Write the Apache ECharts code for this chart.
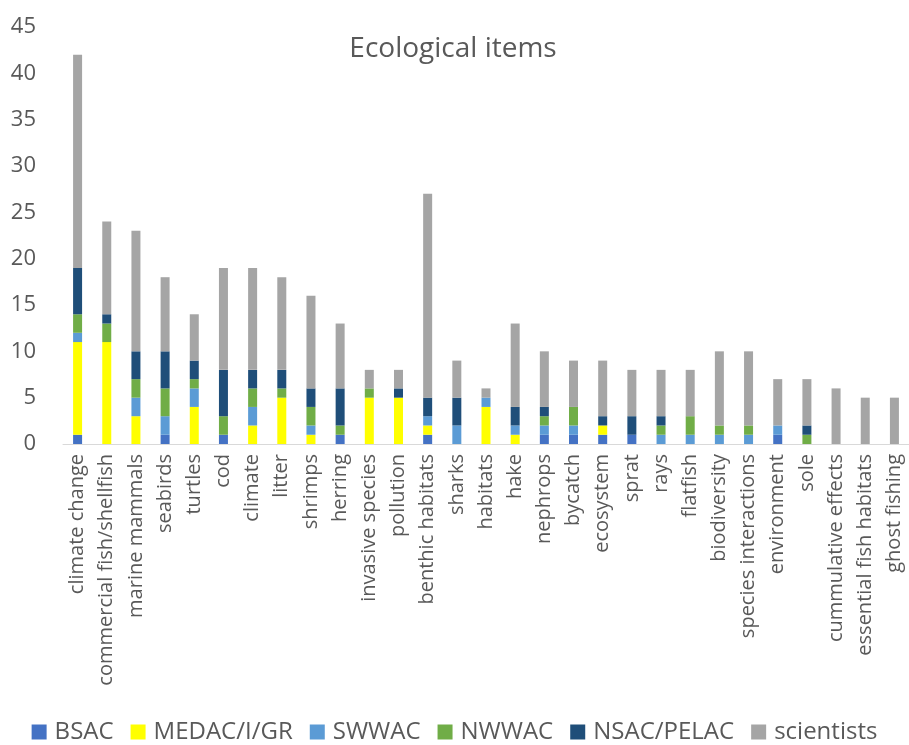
<!DOCTYPE html>
<html>
<head>
<meta charset="utf-8">
<script src="https://cdn.jsdelivr.net/npm/echarts@6/dist/echarts.min.js"></script>
<style>
  html, body { margin: 0; padding: 0; background: #ffffff; }
  #chart { width: 909px; height: 745px; }
</style>
</head>
<body>
<div id="chart"></div>
<script>
// Ecological items mentioned, stacked by advisory council / scientists
const categories = [
  'climate change', 'commercial fish/shellfish', 'marine mammals', 'seabirds', 'turtles',
  'cod', 'climate', 'litter', 'shrimps', 'herring', 'invasive species', 'pollution',
  'benthic habitats', 'sharks', 'habitats', 'hake', 'nephrops', 'bycatch', 'ecosystem',
  'sprat', 'rays', 'flatfish', 'biodiversity', 'species interactions', 'environment',
  'sole', 'cummulative effects', 'essential fish habitats', 'ghost fishing'
];

const bsac       = [1, 0, 0, 1, 0, 1, 0, 0, 0, 1, 0, 0, 1, 0, 0, 0, 1, 1, 1, 1, 0, 0, 0, 0, 1, 0, 0, 0, 0];
const medac      = [10, 11, 3, 0, 4, 0, 2, 5, 1, 0, 5, 5, 1, 0, 4, 1, 0, 0, 1, 0, 0, 0, 0, 0, 0, 0, 0, 0, 0];
const swwac      = [1, 0, 2, 2, 2, 0, 2, 0, 1, 0, 0, 0, 1, 2, 1, 1, 1, 1, 0, 0, 1, 1, 1, 1, 1, 0, 0, 0, 0];
const nwwac      = [2, 2, 2, 3, 1, 2, 2, 1, 2, 1, 1, 0, 0, 0, 0, 0, 1, 2, 0, 0, 1, 2, 1, 1, 0, 1, 0, 0, 0];
const nsac       = [5, 1, 3, 4, 2, 5, 2, 2, 2, 4, 0, 1, 2, 3, 0, 2, 1, 0, 1, 2, 1, 0, 0, 0, 0, 1, 0, 0, 0];
const scientists = [23, 10, 13, 8, 5, 11, 11, 10, 10, 7, 2, 2, 22, 4, 1, 9, 6, 5, 6, 5, 5, 5, 8, 8, 5, 5, 6, 5, 5];

const yTicks = { min: 0, max: 45, interval: 5 };

const seriesDefs = [
  { name: 'BSAC', data: bsac, color: '#4472C4' },
  { name: 'MEDAC/I/GR', data: medac, color: '#FFFF00' },
  { name: 'SWWAC', data: swwac, color: '#5B9BD5' },
  { name: 'NWWAC', data: nwwac, color: '#70AD47' },
  { name: 'NSAC/PELAC', data: nsac, color: '#1F4E79' },
  { name: 'scientists', data: scientists, color: '#A5A5A5' }
];

const textColor = '#595959';
const fontFamily = '"Open Sans", sans-serif';

const chart = echarts.init(document.getElementById('chart'), null, { renderer: 'canvas' });

chart.setOption({
  animation: false,
  backgroundColor: '#ffffff',
  textStyle: { fontFamily: fontFamily },
  title: {
    text: 'Ecological items',
    left: 448,
    textAlign: 'center',
    top: 30,
    textStyle: { color: textColor, fontSize: 28, fontWeight: 'normal', fontFamily: fontFamily }
  },
  legend: {
    top: 720,
    left: 'center',
    padding: 0,
    itemWidth: 15,
    itemHeight: 15,
    itemGap: 17,
    icon: 'rect',
    textStyle: { color: textColor, fontSize: 24, fontFamily: fontFamily, padding: [0, 0, 0, 3] },
    data: seriesDefs.map(s => s.name)
  },
  grid: {
    left: 63,
    right: -6,
    top: 27,
    bottom: 301,
    containLabel: false
  },
  xAxis: {
    type: 'category',
    data: categories,
    axisLine: { lineStyle: { color: '#D9D9D9', width: 1 } },
    axisTick: { show: false },
    axisLabel: {
      interval: 0,
      rotate: 90,
      color: textColor,
      fontSize: 20,
      fontFamily: fontFamily,
      margin: 10
    }
  },
  yAxis: {
    type: 'value',
    min: yTicks.min,
    max: yTicks.max,
    interval: yTicks.interval,
    splitLine: { show: false },
    axisLine: { show: false },
    axisTick: { show: false },
    axisLabel: { color: textColor, fontSize: 22, fontFamily: fontFamily, margin: 27 }
  },
  series: seriesDefs.map(s => ({
    name: s.name,
    type: 'bar',
    stack: 'total',
    barWidth: 9,
    data: s.data,
    itemStyle: { color: s.color }
  }))
});
</script>
</body>
</html>
